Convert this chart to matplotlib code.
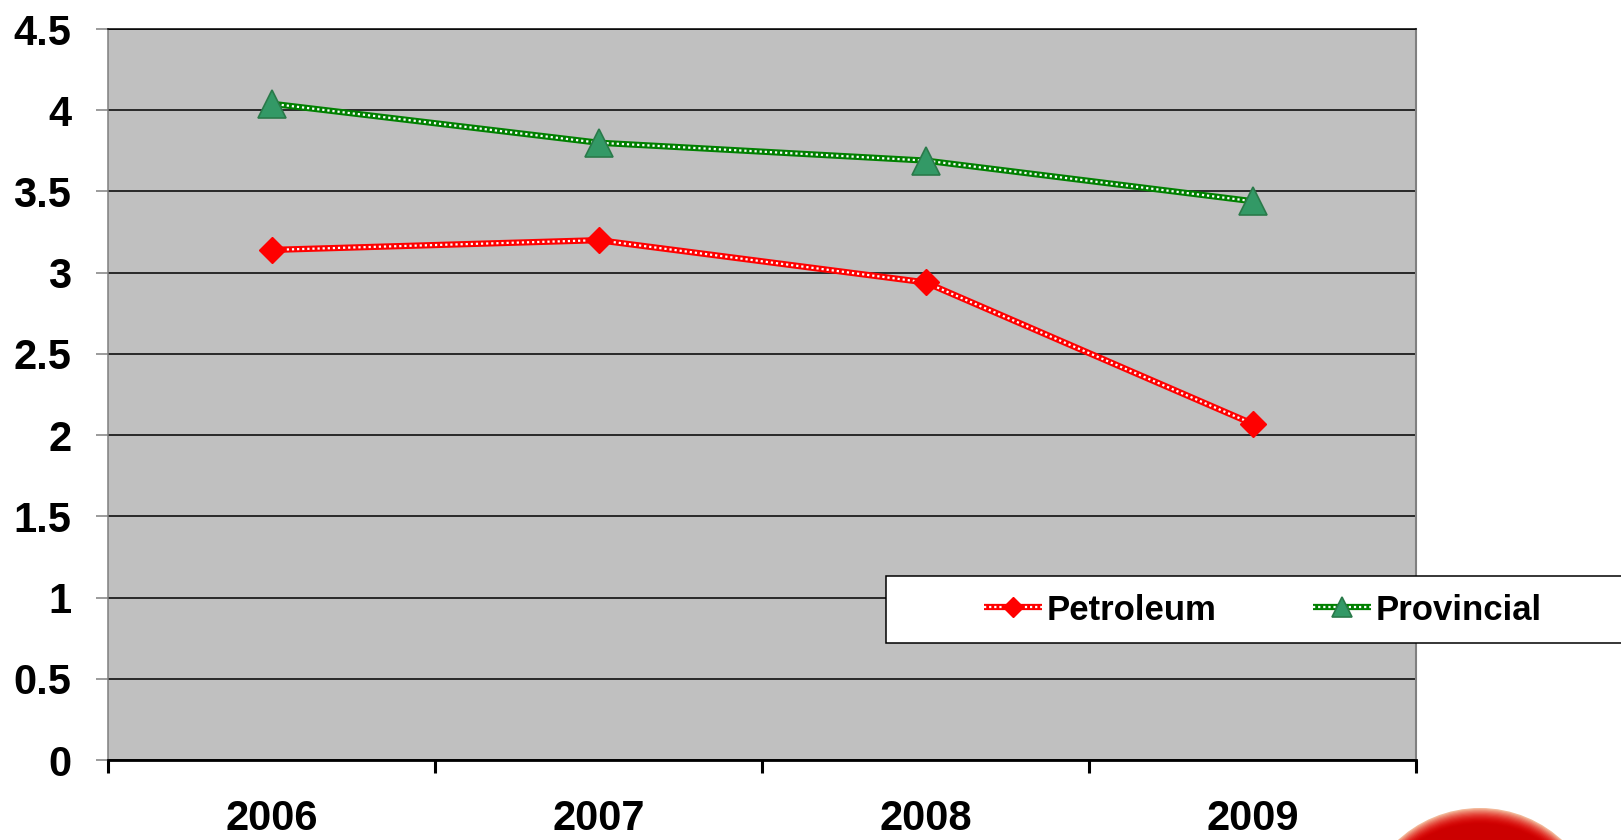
import matplotlib
matplotlib.use("Agg")
import matplotlib.pyplot as plt
from matplotlib.patches import Circle, Rectangle
from matplotlib.legend_handler import HandlerTuple
from matplotlib.ticker import FixedLocator, FuncFormatter

years = ["2006", "2007", "2008", "2009"]
petroleum = [3.14, 3.20, 2.94, 2.07]
provincial = [4.04, 3.80, 3.69, 3.44]
y_ticks = [0, 0.5, 1, 1.5, 2, 2.5, 3, 3.5, 4, 4.5]

plt.rcParams["font.family"] = ["Liberation Sans", "DejaVu Sans"]
plt.rcParams["font.weight"] = "bold"

W, H = 1621, 840
fig = plt.figure(figsize=(W / 100, H / 100), dpi=100)
ax = fig.add_axes([108 / W, 1 - 760 / H, (1416 - 108) / W, (760 - 29) / H])
ax.set_facecolor("#C0C0C0")

x = list(range(len(years)))

# thick coloured line with a white dotted core, like the original
dots = (0, (1, 1.3))
red_line, = ax.plot(x, petroleum, color="#FF0000", lw=4.5, solid_capstyle="butt", zorder=3)
red_dots, = ax.plot(x, petroleum, color="white", lw=1.6, ls=dots, zorder=4)
red_mark, = ax.plot(x, petroleum, ls="none", marker="D", ms=13.5, color="#FF0000",
                    mec="#FF0000", zorder=5)
green_line, = ax.plot(x, provincial, color="#008000", lw=4.5, solid_capstyle="butt", zorder=3)
green_dots, = ax.plot(x, provincial, color="white", lw=1.6, ls=dots, zorder=4)
green_mark, = ax.plot(x, provincial, ls="none", marker="^", ms=19.5, color="#339966",
                      mec="#2A7A4A", mew=1.2, zorder=5)

ax.set_xlim(-0.5, 3.5)
ax.set_ylim(0, 4.5)

# y axis
ax.yaxis.set_major_locator(FixedLocator(y_ticks))
ax.yaxis.set_major_formatter(FuncFormatter(lambda v, p: f"{v:g}"))
ax.tick_params(axis="y", direction="out", length=8.5, width=1.1, color="#808080",
               pad=18, labelsize=30)
ax.grid(axis="y", color="black", lw=1.1, zorder=1)
ax.set_axisbelow(True)

# x axis: ticks between categories, labels centred
ax.set_xticks([-0.5, 0.5, 1.5, 2.5, 3.5])
ax.set_xticklabels([])
ax.set_xticks(x, minor=True)
ax.set_xticklabels(years, minor=True)
ax.tick_params(axis="x", which="major", direction="out", length=9.5, width=2.2, color="black")
ax.tick_params(axis="x", which="minor", length=0, pad=28, labelsize=30)

ax.spines["left"].set_color("#808080")
ax.spines["left"].set_linewidth(1.1)
ax.spines["right"].set_color("#808080")
ax.spines["right"].set_linewidth(1.5)
ax.spines["top"].set_color("black")
ax.spines["top"].set_linewidth(1.1)
ax.spines["bottom"].set_color("black")
ax.spines["bottom"].set_linewidth(2)

# legend box runs off the right edge of the picture
fig.patches.append(Rectangle((886 / W, 1 - 643 / H), 900 / W, 67 / H, transform=fig.transFigure,
                             facecolor="white", edgecolor="black", lw=1.1, zorder=10))
leg = fig.legend([(red_line, red_dots, red_mark), (green_line, green_dots, green_mark)],
                 ["Petroleum", "Provincial"],
                 handler_map={tuple: HandlerTuple(ndivide=1, pad=0)},
                 loc="center left", bbox_to_anchor=(984 / W, 1 - 610 / H),
                 ncol=2, fontsize=25, frameon=False,
                 borderpad=0, borderaxespad=0, handlelength=1.67, handletextpad=0.12,
                 columnspacing=2.8, markerscale=0.75)
leg.set_zorder(11)

# part of the red ball in the bottom-right corner
cx, cy, r = 14.80, -0.89, 1.21
n = 14
for i in range(n):
    t = i / (n - 1)
    col = (0.95 - 0.15 * t, 0.72 * (1 - t) ** 2, 0.60 * (1 - t) ** 2)
    fig.patches.append(Circle((cx, cy - i * 0.006), r - i * 0.006, transform=fig.dpi_scale_trans,
                              facecolor=col, edgecolor="none", zorder=0))

fig.savefig("out.png", dpi=100)
